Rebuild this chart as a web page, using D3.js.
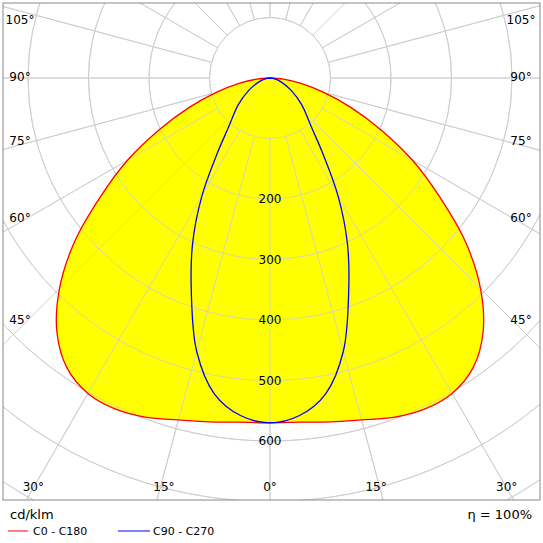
<!DOCTYPE html><html><head><meta charset="utf-8"><script src="https://cdn.jsdelivr.net/npm/d3@7"></script>
<style>body{margin:0;background:#fff}text{font-family:"DejaVu Sans",sans-serif;font-size:12px}</style></head><body><svg id="c" width="543" height="543"></svg>
<script>
const anglesC0=[0,5,10,15,20,25,30,35,40,45,50,55,60,65,70,75,80,85,90];
const valuesC0=[570,571,577,585,597,604,602,585,548,492,422,342,272,202,142,92,52,22,0];
const anglesC90=[0,5,10,15,20,25,30,35,40,50,60,70,80,90];
const valuesC90=[570,560,530,468,380,303,225,152,107,68,40,20,8,0];
const ringLabels=[200,300,400,500,600];
const sideTicks=[105,90,75,60,45];
const sideTickY=[20,77,141,218,320];
const bottomTicks=[30,15,0,15,30];
const bottomAngles=[-30,-15,0,15,30];
const svg=d3.select("#c");
const cx=270,cy=78,L=3,R=540,T=3,B=500;
const r=d3.scaleLinear().domain([0,100]).range([0,60.5]);
svg.append("clipPath").attr("id","cl").append("rect").attr("x",L).attr("y",T).attr("width",R-L).attr("height",B-T);
const pt=(a,v)=>[cx+r(v)*Math.sin(a*Math.PI/180),cy+r(v)*Math.cos(a*Math.PI/180)];
function grid(op){const g=svg.append("g").attr("clip-path","url(#cl)").attr("opacity",op);
for(let v=100;v<=1000;v+=100)g.append("circle").attr("cx",cx).attr("cy",cy).attr("r",r(v)).attr("fill","none").attr("stroke","#cfcfcf");
for(let a=-180;a<180;a+=15){const p0=pt(a,100),p1=pt(a,1200);g.append("line").attr("x1",p0[0]).attr("y1",p0[1]).attr("x2",p1[0]).attr("y2",p1[1]).attr("stroke","#cfcfcf");}}
function full(A,V){const pts=[];for(let i=A.length-1;i>=0;i--)pts.push(pt(-A[i],V[i]));for(let i=1;i<A.length;i++)pts.push(pt(A[i],V[i]));return pts;}
const line=d3.line().curve(d3.curveCatmullRomClosed);
grid(1);
svg.append("path").attr("d",line(full(anglesC0,valuesC0))).attr("fill","#ffff00");
grid(0.8);
svg.append("path").attr("d",line(full(anglesC0,valuesC0))).attr("fill","none").attr("stroke","#ff0000").attr("stroke-width",1.3);
svg.append("path").attr("d",line(full(anglesC90,valuesC90))).attr("fill","none").attr("stroke","#0000ff").attr("stroke-width",1.3);
ringLabels.forEach(v=>svg.append("text").attr("x",cx).attr("y",cy+r(v)+4).attr("text-anchor","middle").text(v));
svg.append("rect").attr("x",L).attr("y",T).attr("width",R-L).attr("height",B-T).attr("fill","none").attr("stroke","#888");
sideTicks.forEach((a,i)=>{[20,521].forEach(x=>svg.append("text").attr("x",x).attr("y",sideTickY[i]+4).attr("text-anchor","middle").text(a+"°"));});
bottomTicks.forEach((a,i)=>{const ang=bottomAngles[i];const t=Math.tan(ang*Math.PI/180);let x=cx+(B-cy)*t+(ang===0?0:Math.sign(ang)*-7);x=Math.max(20,Math.min(521,x));
 svg.append("text").attr("x",x).attr("y",491).attr("text-anchor","middle").text(a+"°");});
svg.append("text").attr("x",10).attr("y",519).style("font-size","13px").text("cd/klm");
svg.append("text").attr("x",532).attr("y",519).attr("text-anchor","end").style("font-size","13px").text("η = 100%");
svg.append("line").attr("x1",8).attr("x2",28).attr("y1",531).attr("y2",531).attr("stroke","#ff0000");
svg.append("text").attr("x",33).attr("y",535).style("font-size","11px").text("C0 - C180");
svg.append("line").attr("x1",118).attr("x2",150).attr("y1",531).attr("y2",531).attr("stroke","#0000ff");
svg.append("text").attr("x",153).attr("y",535).style("font-size","11px").text("C90 - C270");
</script></body></html>
